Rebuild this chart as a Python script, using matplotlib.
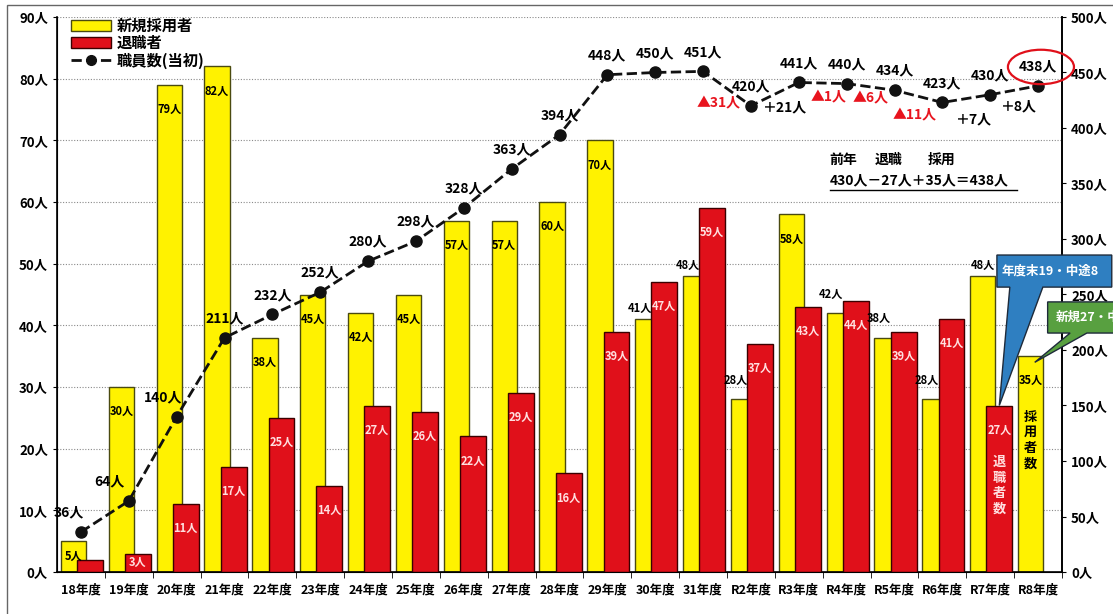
import matplotlib.pyplot as plt
from matplotlib.patches import Patch, Polygon, Ellipse, Rectangle
from matplotlib.lines import Line2D

plt.rcParams['font.family'] = ['Noto Sans CJK JP', 'DejaVu Sans']
plt.rcParams['font.weight'] = 'bold'

years = ['18年度', '19年度', '20年度', '21年度', '22年度', '23年度', '24年度',
         '25年度', '26年度', '27年度', '28年度', '29年度', '30年度', '31年度',
         'R2年度', 'R3年度', 'R4年度', 'R5年度', 'R6年度', 'R7年度', 'R8年度']
hires = [5, 30, 79, 82, 38, 45, 42, 45, 57, 57, 60, 70, 41, 48, 28, 58, 42, 38, 28, 48, 35]
retirees = [2, 3, 11, 17, 25, 14, 27, 26, 22, 29, 16, 39, 47, 59, 37, 43, 44, 39, 41, 27]
staff = [36, 64, 140, 211, 232, 252, 280, 298, 328, 363, 394, 448, 450, 451,
         420, 441, 440, 434, 423, 430, 438]

YEL = '#fff200'
RED = '#e0101a'

fig = plt.figure(figsize=(11.13, 6.14), dpi=100)
ax = fig.add_axes([57 / 1113, 1 - 572 / 614, 1005 / 1113, 555 / 614])
ax.set_xlim(-0.5, len(years) - 0.5)
ax.set_ylim(0, 90)

# outer frame of the original slide
fig.patches.append(Rectangle((7 / 1113, -0.05), 1.1, 1.05 - 5 / 614, transform=fig.transFigure,
                             fill=False, edgecolor='#666666', lw=1))

yx = [i - 0.155 for i in range(len(hires))]
rx = [i + 0.19 for i in range(len(retirees))]
ax.bar(yx, hires, width=0.53, color=YEL, edgecolor='#4a4a10', lw=1, zorder=2)
ax.bar(rx, retirees, width=0.54, color=RED, edgecolor='#3a0000', lw=1, zorder=3)

# bar labels
for i, h in enumerate(hires):
    r = retirees[i] if i < len(retirees) else 0
    if h < r or years[i] == 'R7年度':
        x = yx[i] - 0.17 if h < r else yx[i]
        dy = 3
        if h < r and retirees[i - 1] > h:
            dy = 9
        ax.annotate(f'{h}人', (x, h), xytext=(0, dy), textcoords='offset points',
                    ha='center', va='bottom', fontsize=8, zorder=6)
    else:
        ax.text(yx[i], max(h - 4, h / 2), f'{h}人', ha='center', va='center',
                fontsize=8, zorder=6)
for i, r in enumerate(retirees):
    if r >= 3:
        ax.text(rx[i], max(r - 4, r / 2), f'{r}人', ha='center', va='center',
                fontsize=8, color='#ffe0e0', zorder=6)

ax.text(rx[19], 14, '\n'.join('退職者数'), ha='center', va='center', fontsize=9.5,
        color='#ffe0e0', linespacing=1.15, zorder=6)
ax.text(yx[20], 21.4, '\n'.join('採用者数'), ha='center', va='center', fontsize=9.5,
        color='black', linespacing=1.15, zorder=6)

ax.set_yticks(range(0, 91, 10))
ax.set_yticklabels([f'{v}人' for v in range(0, 91, 10)], fontsize=9.5)
ax.yaxis.grid(True, ls=(0, (1, 1.5)), color='#8a8a8a', lw=0.8)
ax.set_axisbelow(True)
ax.set_xticks(range(len(years)))
ax.set_xticklabels(years, fontsize=9)
ax.tick_params(axis='x', length=0, pad=8)
ax.set_xticks([i + 0.5 for i in range(len(years))], minor=True)
ax.tick_params(axis='x', which='minor', length=4, direction='out')
ax.tick_params(axis='y', length=3, direction='out')
ax.spines['top'].set_visible(False)
for s in ['left', 'bottom', 'right']:
    ax.spines[s].set_linewidth(1.2)

ax2 = ax.twinx()
ax2.set_ylim(0, 500)
ax2.set_yticks(range(0, 501, 50))
ax2.set_yticklabels([f'{v}人' for v in range(0, 501, 50)], fontsize=9.5)
ax2.tick_params(axis='y', length=3, direction='out')
ax2.spines['top'].set_visible(False)
ax2.spines['right'].set_linewidth(1.2)
ax2.plot(range(len(staff)), staff, ls='--', color='#111111', lw=2, marker='o', ms=8, zorder=5)

for i, s in enumerate(staff):
    dx = [-9, -14, -10][i] if i < 3 else 0
    ax2.annotate(f'{s}人', (i, s), xytext=(dx, 14), textcoords='offset points',
                 ha='center', va='center', fontsize=10, zorder=6)

# change from previous year for the last years
offs = [(-23, 2), (-10, -18), (-13, -10), (-17, -6), (-20, -9), (-12, -18), (-14, -15)]
for k, i in enumerate(range(14, len(staff))):
    d = staff[i] - staff[i - 1]
    if d < 0:
        txt, col = f'▲{-d}人', '#e8141e'
    else:
        txt, col = f'＋{d}人', 'black'
    ax2.annotate(txt, (i, staff[i]), xytext=offs[k], textcoords='offset points',
                 ha='center', va='center', fontsize=10, color=col, zorder=6)

ax2.add_patch(Ellipse((20.06, 455), 1.38, 31, fill=False, edgecolor='#e0101a', lw=1.6,
                      clip_on=False, zorder=7))

# equation
ax.text(0.769, 0.742, '前年', transform=ax.transAxes, fontsize=10, va='center')
ax.text(0.814, 0.742, '退職', transform=ax.transAxes, fontsize=10, va='center')
ax.text(0.866, 0.742, '採用', transform=ax.transAxes, fontsize=10, va='center')
eq = f'{staff[-2]}人－{retirees[-1]}人＋{hires[-1]}人＝{staff[-1]}人'
ax.text(0.769, 0.706, eq, transform=ax.transAxes, fontsize=10, va='center')
ax.plot([0.769, 0.955], [0.689, 0.689], transform=ax.transAxes, color='black', lw=1)

# callouts
def callout(x0, x1, ytop, ybot, bx0, bx1, tip, fc, text, tx, ty, ha):
    pts = [(x0, ytop), (x1, ytop), (x1, ybot), (bx1, ybot), tip, (bx0, ybot), (x0, ybot)]
    ax2.add_patch(Polygon(pts, closed=True, transform=ax.transData, facecolor=fc,
                          edgecolor='#1e2a3a', lw=1, clip_on=False, zorder=8))
    ax2.text(tx, ty, text, transform=ax.transData, color='white', fontsize=9,
             ha=ha, va='center', zorder=9)

callout(19.14, 21.54, 51.4, 46.2, 19.41, 20.1, (rx[19], retirees[19]), '#2f7fc1',
        '年度末19・中途8', 20.25, 48.8, 'center')
callout(20.2, 21.9, 43.8, 38.75, 20.67, 21.02, (19.93, hires[20] - 1), '#58a040',
        '新規27・中途8', 20.38, 41.3, 'left')

ax.legend(handles=[Patch(facecolor=YEL, edgecolor='#4a4a10'),
                   Patch(facecolor=RED, edgecolor='#3a0000'),
                   Line2D([], [], ls='--', color='#111111', lw=2, marker='o', ms=7)],
          labels=['新規採用者', '退職者', '職員数(当初)'],
          loc='upper left', bbox_to_anchor=(0.008, 1.01), frameon=False, fontsize=11,
          handlelength=2.6, handleheight=0.75, labelspacing=0.1, handletextpad=0.4,
          borderaxespad=0)

fig.savefig('out.png', dpi=100)
